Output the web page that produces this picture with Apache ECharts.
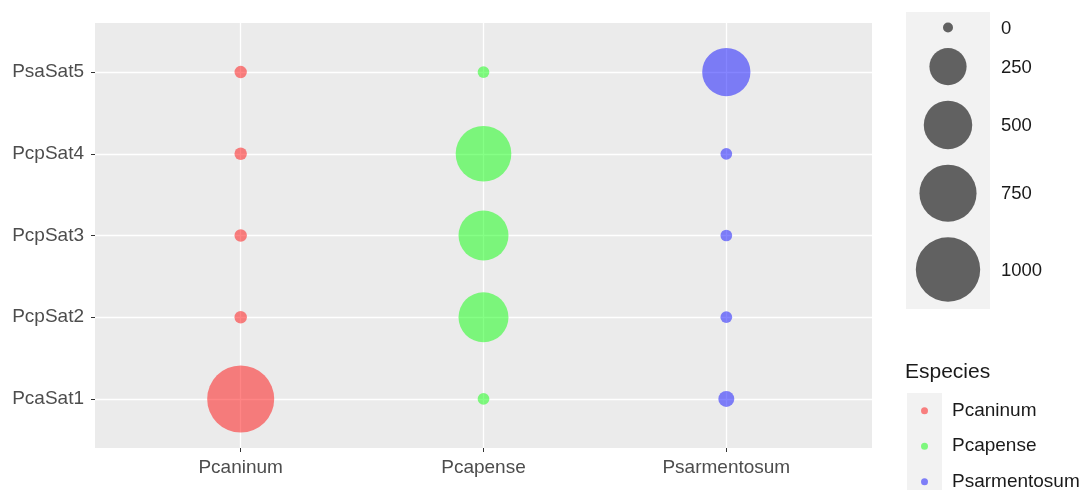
<!DOCTYPE html>
<html>
<head>
<meta charset="utf-8">
<script src="https://cdn.jsdelivr.net/npm/echarts@6/dist/echarts.min.js"></script>
<style>html,body{margin:0;padding:0;background:#fff}#c{width:1086px;height:490px}</style>
</head>
<body>
<div id="c"></div>
<script>
// ---- data ----
const speciesNames = ['Pcaninum', 'Pcapense', 'Psarmentosum'];
const satNames = ['PcaSat1', 'PcpSat2', 'PcpSat3', 'PcpSat4', 'PsaSat5'];
// values listed in satNames order
const pcaninumValues = [1100, 2, 2, 2, 2];
const pcapenseValues = [1, 540, 540, 705, 1];
const psarmentosumValues = [12, 1, 1, 1, 495];
const sizeBreaks = [0, 250, 500, 750, 1000];
const legendTitle = 'Especies';

// ---- styles ----
const colors = ['rgba(255,0,0,0.6)', 'rgba(0,255,0,0.6)', 'rgba(0,0,255,0.6)'];
const sizeOf = v => 10 + 1.72 * Math.sqrt(v);
const font = 'Liberation Sans, Arial, sans-serif';

const allValues = [pcaninumValues, pcapenseValues, psarmentosumValues];
const series = speciesNames.map((name, si) => ({
  name: name,
  type: 'scatter',
  data: allValues[si].map((v, i) => [si, i, v]),
  symbolSize: d => sizeOf(d[2]),
  itemStyle: { color: colors[si] },
  emphasis: { disabled: true },
  z: 3
}));

// size legend built from sizeBreaks through sizeOf
const graphics = [];
const sx = 948, lx = 1001;
graphics.push({ type: 'rect', shape: { x: 906, y: 12, width: 84, height: 297 }, style: { fill: '#F2F2F2' }, silent: true, z: 0 });
let cy = 27.5;
sizeBreaks.forEach((b, i) => {
  const d = sizeOf(b);
  if (i > 0) cy += (sizeOf(sizeBreaks[i - 1]) + d) / 2 + 15.5;
  graphics.push({ type: 'circle', shape: { cx: sx, cy: cy, r: d / 2 }, style: { fill: 'rgba(0,0,0,0.6)' }, silent: true, z: 1 });
  graphics.push({ type: 'text', x: lx, y: cy + 1, style: { text: String(b), font: '18.5px ' + font, fill: '#1a1a1a', verticalAlign: 'middle', align: 'left' }, silent: true, z: 1 });
});
// species legend key background
graphics.push({ type: 'rect', shape: { x: 907, y: 393, width: 35, height: 110 }, style: { fill: '#F2F2F2' }, silent: true, z: 0 });

const chart = echarts.init(document.getElementById('c'), null, { renderer: 'canvas' });
chart.setOption({
  animation: false,
  backgroundColor: '#ffffff',
  grid: { left: 95, right: 214, top: 23, bottom: 42, show: true, backgroundColor: '#EBEBEB', borderWidth: 0 },
  xAxis: {
    type: 'value', min: -0.6, max: 2.6,
    axisLine: { show: false, onZero: false },
    axisTick: { show: true, length: 4, lineStyle: { color: '#333333', width: 1 }, customValues: [0, 1, 2] },
    axisLabel: { customValues: [0, 1, 2], formatter: v => speciesNames[Math.round(v)] || '', color: '#4D4D4D', fontSize: 19, fontFamily: font, margin: 10 },
    splitLine: { show: true, lineStyle: { color: '#ffffff', width: 1.3 } },
    minorSplitLine: { show: false }
  },
  yAxis: {
    type: 'value', min: -0.6, max: 4.6,
    axisLine: { show: false, onZero: false },
    axisTick: { show: true, length: 4, lineStyle: { color: '#333333', width: 1 }, customValues: [0, 1, 2, 3, 4] },
    axisLabel: { customValues: [0, 1, 2, 3, 4], formatter: v => satNames[Math.round(v)] || '', color: '#4D4D4D', fontSize: 19, fontFamily: font, margin: 11 },
    splitLine: { show: true, lineStyle: { color: '#ffffff', width: 1.3 } }
  },
  legend: {
    data: speciesNames,
    orient: 'vertical',
    left: 921,
    top: 393,
    height: 130,
    icon: 'circle',
    itemWidth: 7,
    itemHeight: 7,
    itemGap: 0,
    selectedMode: false,
    padding: 0,
    textStyle: { fontSize: 19, fontFamily: font, color: '#1a1a1a', lineHeight: 35.5, padding: [0, 0, 0, 19] }
  },
  title: {
    text: legendTitle,
    left: 905, top: 362,
    padding: 0,
    textStyle: { fontSize: 21, fontWeight: 'normal', fontFamily: font, color: '#1a1a1a' }
  },
  graphic: graphics,
  series: series
});
</script>
</body>
</html>
